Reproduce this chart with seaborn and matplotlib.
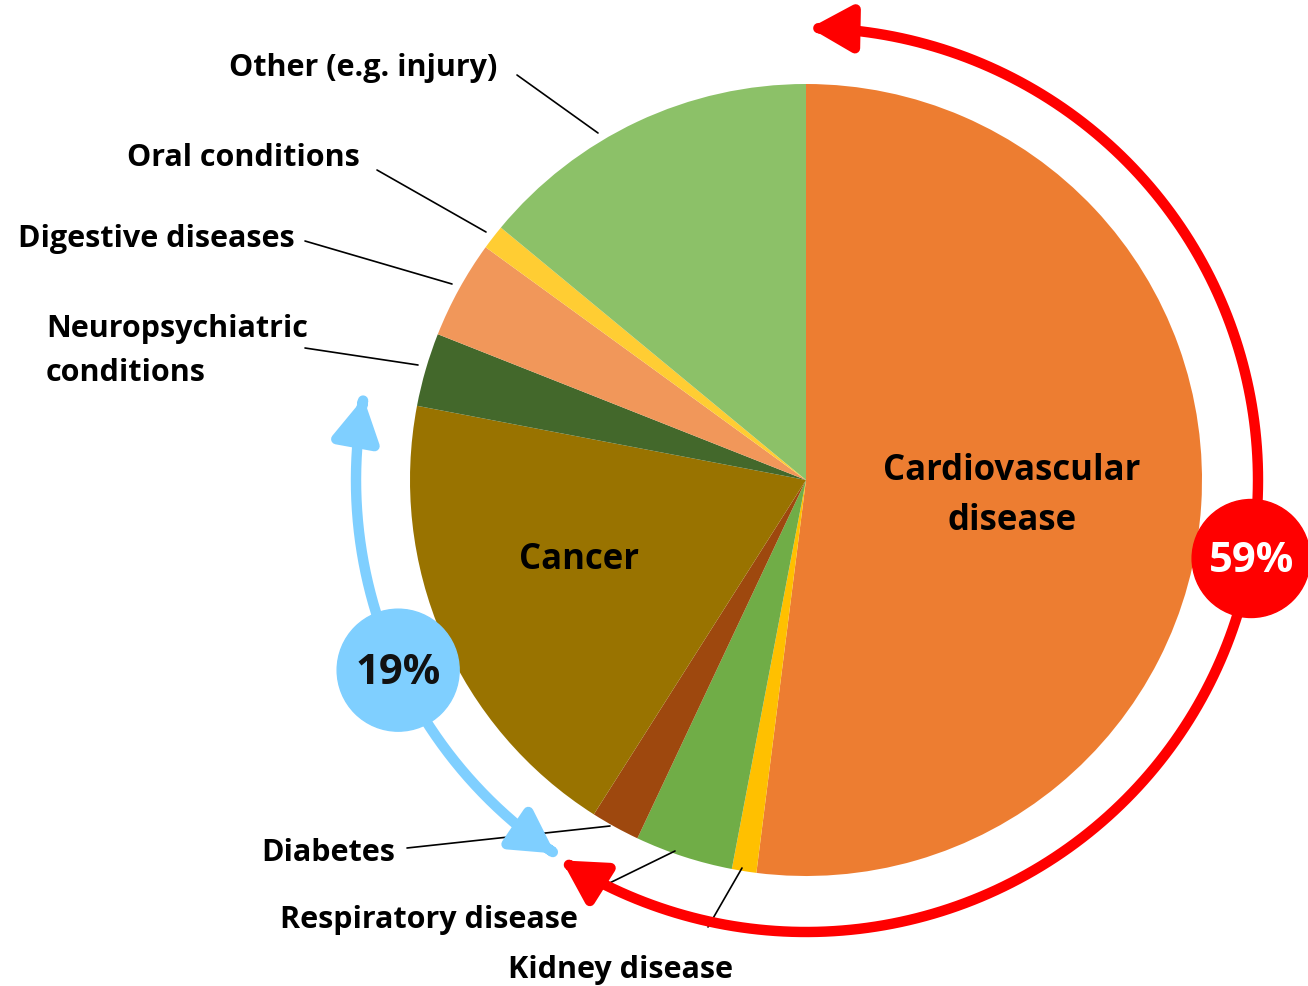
import numpy as np
import matplotlib
matplotlib.use("Agg")
import matplotlib.pyplot as plt
from matplotlib.patches import Circle, FancyArrowPatch
from matplotlib.path import Path
import seaborn as sns

# data (share of deaths, %)
causes = ["Cardiovascular disease", "Kidney disease", "Respiratory disease", "Diabetes",
          "Cancer", "Neuropsychiatric conditions", "Digestive diseases", "Oral conditions",
          "Other (e.g. injury)"]
shares = [52, 1, 4, 2, 19, 3, 4, 1, 14]
colors = ["#ED7D31", "#FFC000", "#70AD47", "#9E480E", "#997300", "#43682B",
          "#F1975A", "#FFCD33", "#8CC168"]
group_labels = ["59%", "19%"]

sns.set_theme(style="white")
plt.rcParams["font.family"] = ["Open Sans", "DejaVu Sans"]

W, H = 1308, 986
fig = plt.figure(figsize=(W / 100, H / 100), dpi=100)
ax = fig.add_axes([0, 0, 1, 1])

cx, cy, R = 806, H - 480, 396


def pt(angle, r):
    # compass angle (clockwise from top) -> data coords
    a = np.radians(angle)
    return cx + r * np.sin(a), cy + r * np.cos(a)


ax.pie(shares, colors=colors, startangle=90, counterclock=False,
       center=(cx, cy), radius=R, wedgeprops=dict(linewidth=0))

# cumulative angles
bounds = np.concatenate([[0], np.cumsum(shares)]) / 100 * 360


def arc_arrow(a0, a1, r, color):
    t = np.linspace(a0, a1, 200)
    xs, ys = pt(t, r)
    p = Path(np.column_stack([xs, ys]))
    arr = FancyArrowPatch(path=p, arrowstyle="<|-|>,head_length=25,head_width=14",
                          color=color, lw=7.5, shrinkA=0, shrinkB=0,
                          mutation_scale=1, zorder=3)
    ax.add_patch(arr)


red = "#FF0000"
blue = "#7FCFFF"
arc_arrow(0.5, bounds[4] + 0.3, 452, red)
arc_arrow(bounds[4] + 1.5, bounds[5] - 0.3, 450, blue)

# summary bubbles
x, y = pt(100, 452)
ax.add_patch(Circle((x, y), 59, color=red, zorder=4))
ax.text(x, y - 3, group_labels[0], color="white", fontsize=30, fontweight="bold",
        ha="center", va="center", zorder=5)
x, y = pt(245, 450)
ax.add_patch(Circle((x, y), 61, color=blue, zorder=4))
ax.text(x, y - 3, group_labels[1], color="#111111", fontsize=30, fontweight="bold",
        ha="center", va="center", zorder=5)

# inside labels
ax.text(1012, H - 496, "Cardiovascular\ndisease", fontsize=25, fontweight="bold",
        ha="center", va="center", linespacing=1.52, color="black")
ax.text(579, H - 560, causes[4], fontsize=25, fontweight="bold",
        ha="center", va="center", color="black")

# outside labels with leader lines
outside = [
    ("Other (e.g. injury)", (497, 68), "right", 1.0, [(517, 75), (598, 133)]),
    ("Oral conditions", (360, 158), "right", 1.0, [(377, 170), (486, 232)]),
    ("Digestive diseases", (295, 239), "right", 1.0, [(305, 241), (452, 284)]),
    ("Neuropsychiatric\nconditions", (46, 351), "left", 1.6, [(305, 348), (418, 365)]),
    ("Diabetes", (395, 853), "right", 1.0, [(407, 848), (610, 826)]),
    ("Respiratory disease", (578, 920), "right", 1.0, [(583, 896), (675, 851)]),
    ("Kidney disease", (733, 970), "right", 1.0, [(708, 927), (742, 868)]),
]
for label, (tx, ty), ha, ls, line in outside:
    ax.text(tx, H - ty, label, fontsize=22, fontweight="bold", ha=ha, va="center",
            linespacing=ls, color="black")
    (x0, y0), (x1, y1) = line
    ax.plot([x0, x1], [H - y0, H - y1], color="black", lw=1.2)

ax.set_xlim(0, W)
ax.set_ylim(0, H)
ax.set_aspect("equal")
ax.axis("off")

fig.savefig("out.png", dpi=100)
